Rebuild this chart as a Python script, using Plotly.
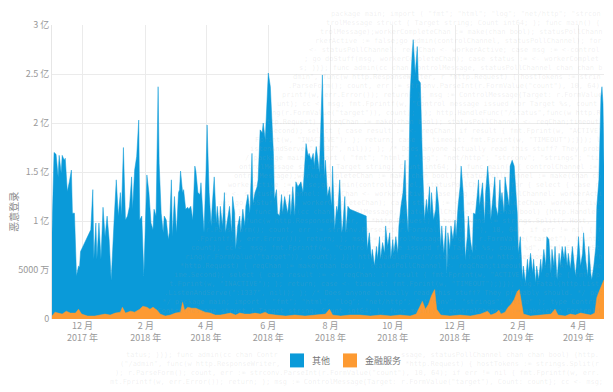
import plotly.graph_objects as go

# ---- data (values in 亿) ----
other_dates = [
"2017-11-01","2017-11-03","2017-11-05","2017-11-07","2017-11-08","2017-11-10","2017-11-11","2017-11-13","2017-11-14","2017-11-16",
"2017-11-18","2017-11-20","2017-11-21","2017-11-23","2017-11-25","2017-11-27","2017-11-28","2017-11-29","2017-12-09","2017-12-11",
"2017-12-12","2017-12-14","2017-12-15","2017-12-17","2017-12-19","2017-12-21","2017-12-23","2017-12-25","2017-12-27","2017-12-29",
"2018-01-01","2018-01-03","2018-01-05","2018-01-07","2018-01-08","2018-01-10","2018-01-12","2018-01-14","2018-01-16","2018-01-18",
"2018-01-19","2018-01-21","2018-01-23","2018-01-25","2018-01-26","2018-01-28","2018-01-30","2018-02-01","2018-02-02","2018-02-04",
"2018-02-06","2018-02-08","2018-02-09","2018-02-11","2018-02-13","2018-02-14","2018-02-16","2018-02-18","2018-02-19","2018-02-21",
"2018-02-23","2018-02-24","2018-02-26","2018-02-27","2018-03-01","2018-03-03","2018-03-05","2018-03-06","2018-03-07","2018-03-09",
"2018-03-10","2018-03-12","2018-03-14","2018-03-15","2018-03-17","2018-03-19","2018-03-21","2018-03-22","2018-03-24","2018-03-26",
"2018-03-27","2018-03-29","2018-03-30","2018-04-01","2018-04-02","2018-04-04","2018-04-06","2018-04-07","2018-04-09","2018-04-11",
"2018-04-12","2018-04-14","2018-04-15","2018-04-17","2018-04-19","2018-04-20","2018-04-22","2018-04-24","2018-04-26","2018-04-27",
"2018-04-29","2018-04-30","2018-05-02","2018-05-04","2018-05-05","2018-05-07","2018-05-09","2018-05-10","2018-05-12","2018-05-14",
"2018-05-16","2018-05-17","2018-05-19","2018-05-21","2018-05-22","2018-05-24","2018-05-26","2018-05-27","2018-05-29","2018-05-31",
"2018-06-01","2018-06-03","2018-06-04","2018-06-06","2018-06-07","2018-06-09","2018-06-10","2018-06-12","2018-06-14","2018-06-15",
"2018-06-17","2018-06-19","2018-06-20","2018-06-22","2018-06-23","2018-06-25","2018-06-27","2018-06-28","2018-06-30","2018-07-02",
"2018-07-03","2018-07-05","2018-07-07","2018-07-08","2018-07-10","2018-07-11","2018-07-13","2018-07-15","2018-07-16","2018-07-18",
"2018-07-20","2018-07-21","2018-07-24","2018-07-26","2018-07-27","2018-07-29","2018-07-31","2018-08-02","2018-08-03","2018-08-05",
"2018-08-07","2018-08-08","2018-08-10","2018-08-12","2018-08-13","2018-08-15","2018-08-16","2018-08-18","2018-08-20","2018-09-05",
"2018-09-06","2018-09-08","2018-09-10","2018-09-11","2018-09-13","2018-09-15","2018-09-16","2018-09-18","2018-09-19","2018-09-21",
"2018-09-23","2018-09-24","2018-09-26","2018-09-28","2018-09-29","2018-10-01","2018-10-02","2018-10-04","2018-10-06","2018-10-07",
"2018-10-09","2018-10-11","2018-10-13","2018-10-14","2018-10-16","2018-10-17","2018-10-18","2018-10-20","2018-10-21","2018-10-23",
"2018-10-25","2018-10-26","2018-10-28","2018-10-30","2018-10-31","2018-11-01","2018-11-03","2018-11-04","2018-11-06","2018-11-07",
"2018-11-08","2018-11-10","2018-11-12","2018-11-13","2018-11-15","2018-11-17","2018-11-18","2018-11-20","2018-11-22","2018-11-23",
"2018-11-24","2018-11-26","2018-11-27","2018-11-29","2018-12-01","2018-12-02","2018-12-04","2018-12-06","2018-12-07","2018-12-09",
"2018-12-10","2018-12-11","2018-12-13","2018-12-14","2018-12-16","2018-12-18","2018-12-19","2018-12-21","2018-12-23","2018-12-24",
"2018-12-25","2018-12-27","2018-12-28","2018-12-30","2018-12-31","2019-01-02","2019-01-04","2019-01-05","2019-01-07","2019-01-09",
"2019-01-10","2019-01-12","2019-01-14","2019-01-15","2019-01-16","2019-01-18","2019-01-19","2019-01-21","2019-01-23","2019-01-24",
"2019-01-26","2019-01-28","2019-01-29","2019-01-31","2019-02-01","2019-02-03","2019-02-05","2019-02-06","2019-02-08","2019-02-10",
"2019-02-11","2019-02-13","2019-02-15","2019-02-16","2019-02-18","2019-02-19","2019-02-21","2019-02-23","2019-02-24","2019-02-26",
"2019-02-28","2019-03-01","2019-03-03","2019-03-05","2019-03-06","2019-03-08","2019-03-09","2019-03-11","2019-03-13","2019-03-14",
"2019-03-16","2019-03-18","2019-03-19","2019-03-21","2019-03-22","2019-03-24","2019-03-26","2019-03-27","2019-03-29","2019-03-31",
"2019-04-01","2019-04-03","2019-04-05","2019-04-06","2019-04-08","2019-04-10","2019-04-11","2019-04-13","2019-04-14","2019-04-16",
"2019-04-18","2019-04-19","2019-04-21","2019-04-23","2019-04-24","2019-04-25","2019-04-26",
]
other_values = [
0.88,1.70,1.68,1.45,1.67,1.49,1.67,1.62,1.64,1.30,
1.40,1.52,1.08,1.08,0.44,0.54,0.53,0.69,0.91,1.32,
0.61,0.98,0.61,0.98,0.61,1.14,0.84,1.05,0.81,0.39,
1.03,1.42,1.05,1.29,1.05,1.75,1.01,1.05,1.15,1.45,
1.12,1.52,1.66,2.03,1.01,1.05,0.44,1.15,1.47,1.29,
0.98,0.91,1.12,1.05,2.37,1.59,1.08,0.88,1.05,1.01,
0.81,0.88,1.42,0.84,1.25,0.88,1.29,1.32,1.51,1.29,
1.32,1.12,1.14,1.12,1.15,1.01,1.56,1.51,1.29,1.27,
1.39,1.05,0.88,1.52,1.98,1.29,0.95,1.15,1.45,0.98,
1.15,0.91,1.15,0.95,1.29,0.88,1.01,1.15,0.88,1.25,
1.08,0.71,0.95,1.05,0.88,1.12,0.95,1.15,1.27,1.08,
1.69,1.18,1.29,1.35,1.42,1.93,1.90,2.00,1.83,2.20,
2.51,2.37,2.13,1.69,1.22,1.32,1.08,1.05,1.27,1.08,
1.25,1.12,1.08,1.27,1.05,1.35,1.05,1.40,1.35,1.38,
1.40,1.29,1.66,1.79,1.66,1.69,1.62,1.69,1.56,1.76,
1.59,1.49,2.49,1.45,1.62,1.25,1.35,1.15,1.56,0.91,
1.15,1.08,1.42,0.88,0.95,1.25,0.88,1.15,1.12,1.05,
0.71,0.88,0.61,0.71,0.54,0.74,0.61,0.84,0.61,0.78,
0.67,0.95,0.74,0.88,0.61,0.81,0.67,0.84,0.67,0.95,
1.15,1.29,1.62,1.22,0.88,1.56,2.30,2.71,2.85,2.50,
2.78,2.44,2.41,1.62,1.35,1.01,1.22,1.08,1.35,1.05,
1.29,1.01,1.12,1.35,1.15,0.74,0.95,0.67,0.95,0.47,
0.88,0.71,0.95,0.81,1.01,0.84,1.15,1.35,1.56,1.29,
1.01,0.61,0.84,1.05,0.81,0.67,1.08,1.07,1.29,1.42,
1.15,1.29,1.39,0.98,1.29,1.56,1.29,1.01,1.22,1.45,
1.15,1.05,1.42,1.20,1.29,1.08,1.45,1.29,1.15,1.56,
1.62,1.56,1.35,1.08,0.67,0.84,0.40,0.54,0.37,0.61,
0.47,0.67,0.47,0.61,0.37,0.54,0.40,0.61,0.47,0.71,
0.54,0.84,0.81,0.47,0.71,0.54,0.74,0.40,0.67,0.54,
0.74,0.61,0.74,0.54,0.67,0.51,0.74,0.61,0.44,0.67,
0.84,0.54,0.67,0.88,0.61,0.44,0.74,0.47,0.40,0.54,
0.74,1.15,1.42,2.27,2.37,2.20,1.56,
]

fin_dates = [
"2017-11-01","2017-11-04","2017-11-07","2017-11-11","2017-11-15","2017-11-19","2017-11-24","2017-11-27","2017-11-30","2017-12-06",
"2017-12-13","2017-12-18","2017-12-23","2017-12-28","2018-01-02","2018-01-07","2018-01-09","2018-01-12","2018-01-17","2018-01-21",
"2018-01-26","2018-01-29","2018-02-02","2018-02-05","2018-02-08","2018-02-12","2018-02-15","2018-02-20","2018-02-25","2018-03-02",
"2018-03-07","2018-03-09","2018-03-11","2018-03-14","2018-03-18","2018-03-22","2018-03-26","2018-03-31","2018-04-05","2018-04-10",
"2018-04-15","2018-04-20","2018-04-25","2018-04-30","2018-05-04","2018-05-09","2018-05-14","2018-05-19","2018-05-24","2018-05-29",
"2018-06-01","2018-06-08","2018-06-18","2018-06-27","2018-07-07","2018-07-17","2018-07-27","2018-07-31","2018-08-03","2018-08-11",
"2018-08-20","2018-08-30","2018-09-09","2018-09-19","2018-09-29","2018-10-08","2018-10-18","2018-10-24","2018-10-27","2018-10-30",
"2018-11-02","2018-11-05","2018-11-08","2018-11-11","2018-11-13","2018-11-17","2018-11-26","2018-12-06","2018-12-16","2018-12-26",
"2019-01-02","2019-01-05","2019-01-10","2019-01-13","2019-01-15","2019-01-19","2019-01-22","2019-01-25","2019-01-28","2019-01-31",
"2019-02-02","2019-02-04","2019-02-06","2019-02-13","2019-02-23","2019-03-05","2019-03-09","2019-03-12","2019-03-19","2019-03-24",
"2019-03-29","2019-04-03","2019-04-08","2019-04-13","2019-04-17","2019-04-19","2019-04-22","2019-04-25","2019-04-26",
]
fin_values = [
0.03,0.07,0.06,0.05,0.08,0.06,0.06,0.10,0.05,0.03,
0.03,0.04,0.05,0.04,0.06,0.07,0.12,0.06,0.08,0.07,
0.10,0.13,0.12,0.10,0.12,0.09,0.05,0.03,0.04,0.06,
0.07,0.17,0.09,0.12,0.11,0.11,0.09,0.07,0.06,0.04,
0.04,0.05,0.06,0.04,0.06,0.05,0.05,0.06,0.05,0.07,
0.05,0.04,0.03,0.04,0.03,0.04,0.05,0.10,0.04,0.03,
0.04,0.04,0.03,0.04,0.03,0.04,0.03,0.05,0.12,0.18,
0.10,0.15,0.24,0.30,0.10,0.04,0.03,0.04,0.03,0.05,
0.08,0.04,0.06,0.09,0.05,0.07,0.12,0.15,0.20,0.28,
0.30,0.18,0.05,0.03,0.04,0.05,0.10,0.04,0.03,0.05,
0.04,0.06,0.05,0.04,0.06,0.22,0.30,0.37,0.40,
]

series_names = ["其他", "金融服务"]
series_colors = ["#0a9ad9", "#fd9a32"]

y_tickvals = [0, 0.5, 1, 1.5, 2, 2.5, 3]
y_ticktext = ["0", "5000 万", "1 亿", "1.5 亿", "2 亿", "2.5 亿", "3 亿"]
x_tickvals = ["2017-12-01", "2018-02-01", "2018-04-01", "2018-06-01", "2018-08-01",
              "2018-10-01", "2018-12-01", "2019-02-01", "2019-04-01"]
x_ticktext = ["12 月<br>2017 年", "2 月<br>2018 年", "4 月<br>2018 年", "6 月<br>2018 年",
              "8 月<br>2018 年", "10 月<br>2018 年", "12 月<br>2018 年", "2 月<br>2019 年",
              "4 月<br>2019 年"]
y_title = "恶意登录"

# faint code texture visible behind the chart in the reference
BG_CODE = ('package main; import ( "fmt"; "html"; "log"; "net/http"; "strconv"; "strings"; "time" ); '
           'type ControlMessage struct { Target string; Count int64; }; func main() { controlChannel := '
           'make(chan ControlMessage);workerCompleteChan := make(chan bool); statusPollChannel := make(chan '
           'chan bool); workerActive := false;go admin(controlChannel, statusPollChannel); for { select { '
           'case respChan := <- statusPollChannel: respChan <- workerActive; case msg := <-controlChannel: '
           'workerActive = true; go doStuff(msg, workerCompleteChan); case status := <- workerCompleteChan: '
           'workerActive = status; }}}; func admin(cc chan ControlMessage, statusPollChannel chan chan bool) '
           '{http.HandleFunc("/admin", func(w http.ResponseWriter, r *http.Request) { hostTokens := '
           'strings.Split(r.Host, ":"); r.ParseForm(); count, err := strconv.ParseInt(r.FormValue("count"), '
           '10, 64); if err != nil { fmt.Fprintf(w, err.Error()); return; }; msg := ControlMessage{Target: '
           'r.FormValue("target"), Count: count}; cc <- msg; fmt.Fprintf(w, "Control message issued for '
           'Target %s, count %d", html.EscapeString(r.FormValue("target")), count); }); '
           'http.HandleFunc("/status",func(w http.ResponseWriter, r *http.Request) { reqChan := make(chan '
           'bool); statusPollChannel <- reqChan;timeout := time.After(time.Second); select { case result := '
           '<- reqChan: if result { fmt.Fprint(w, "ACTIVE"); } else { fmt.Fprint(w, "INACTIVE"); }; return; '
           'case <- timeout: fmt.Fprint(w, "TIMEOUT");}}); log.Fatal(http.ListenAndServe(":1337", nil)); }; '
           '/* Does anyone actually read this stuff? They probably should. */ ')

FONT = "Noto Sans CJK SC, Noto Sans, sans-serif"
W, H = 613, 392
ML, MR, MT, MB = 52, 9, 25, 72.5
PW, PH = W - ML - MR, H - MT - MB


def px_x(px):
    return (px - ML) / PW


def px_y(py):
    return (H - MB - py) / PH


fig = go.Figure()
fig.add_trace(go.Scatter(x=other_dates, y=other_values, mode="lines", fill="tozeroy",
                         line=dict(color=series_colors[0], width=0.5),
                         fillcolor=series_colors[0], name=series_names[0], showlegend=False))
fig.add_trace(go.Scatter(x=fin_dates, y=fin_values, mode="lines", fill="tozeroy",
                         line=dict(color=series_colors[1], width=0.5),
                         fillcolor=series_colors[1], name=series_names[1], showlegend=False))

annotations = [dict(text=y_title, textangle=-90, xref="paper", yref="paper",
                    x=px_x(14), y=px_y(212), xanchor="center", yanchor="middle",
                    showarrow=False, font=dict(size=10, color="#888888"))]
shapes = []

# background code lines: small faint lines that do not collide with the chart's own texts
BG_SIZE = 7
CW = 0.602 * BG_SIZE
long_code = BG_CODE * 3
TICK_BAND = (315, 351)     # rows of the x tick labels
LEGEND_BAND = (351, 372)   # row of the legend labels
LEGEND_X = (284, 400)


def add_code(x0, x1, y, off):
    nchar = int((x1 - x0) / CW) - 1
    if nchar < 4:
        return
    s = long_code[off:off + nchar]
    annotations.append(dict(text=s.replace(" ", "&nbsp;"), xref="paper", yref="paper",
                            x=px_x(x0), y=px_y(y), xanchor="left", yanchor="middle",
                            showarrow=False, borderpad=0,
                            font=dict(family="DejaVu Sans Mono", size=BG_SIZE,
                                      color="rgba(160,160,160,0.16)")))


line_y = 14.0
k = 0
while line_y < H - 5:
    start_px = 330 - (line_y - 14) * 0.6
    off = (k * 97) % len(BG_CODE)
    if TICK_BAND[0] < line_y < TICK_BAND[1]:
        pass
    elif LEGEND_BAND[0] <= line_y < LEGEND_BAND[1]:
        add_code(start_px, LEGEND_X[0], line_y, off)
        add_code(LEGEND_X[1], 606, line_y, off + 40)
    else:
        add_code(start_px, 606, line_y, off)
    line_y += 9
    k += 1

# manual legend (square swatches + labels)
legend_items = [(290, 310), (343, 363)]
for (sq_x, tx_x), name, col in zip(legend_items, series_names, series_colors):
    shapes.append(dict(type="rect", xref="paper", yref="paper",
                       x0=px_x(sq_x), x1=px_x(sq_x + 14), y0=px_y(368), y1=px_y(354),
                       fillcolor=col, line=dict(width=0)))
    annotations.append(dict(text=name, xref="paper", yref="paper", x=px_x(tx_x), y=px_y(361),
                            xanchor="left", yanchor="middle", showarrow=False,
                            font=dict(size=9, color="#777777")))

fig.update_layout(
    width=W, height=H,
    margin=dict(l=ML, r=MR, t=MT, b=MB, autoexpand=False),
    paper_bgcolor="white", plot_bgcolor="white",
    font=dict(family=FONT, size=9, color="#999999"),
    showlegend=False,
    annotations=annotations, shapes=shapes,
)
fig.update_xaxes(type="date", range=["2017-11-01", "2019-04-26"],
                 tickvals=x_tickvals, ticktext=x_ticktext, automargin=False,
                 showgrid=True, gridcolor="#ebebeb", gridwidth=1,
                 showline=False, zeroline=False, ticks="",
                 tickfont=dict(size=9, color="#999999"))
fig.update_yaxes(range=[0, 3], tickvals=y_tickvals, ticktext=y_ticktext, automargin=False,
                 showgrid=True, gridcolor="#ebebeb", gridwidth=1,
                 showline=True, linecolor="#e6e6e6", zeroline=False, ticks="",
                 tickfont=dict(size=9, color="#999999"))

fig.write_html("out.html", config={"displayModeBar": False},
               post_script="document.body.style.margin='0';")
